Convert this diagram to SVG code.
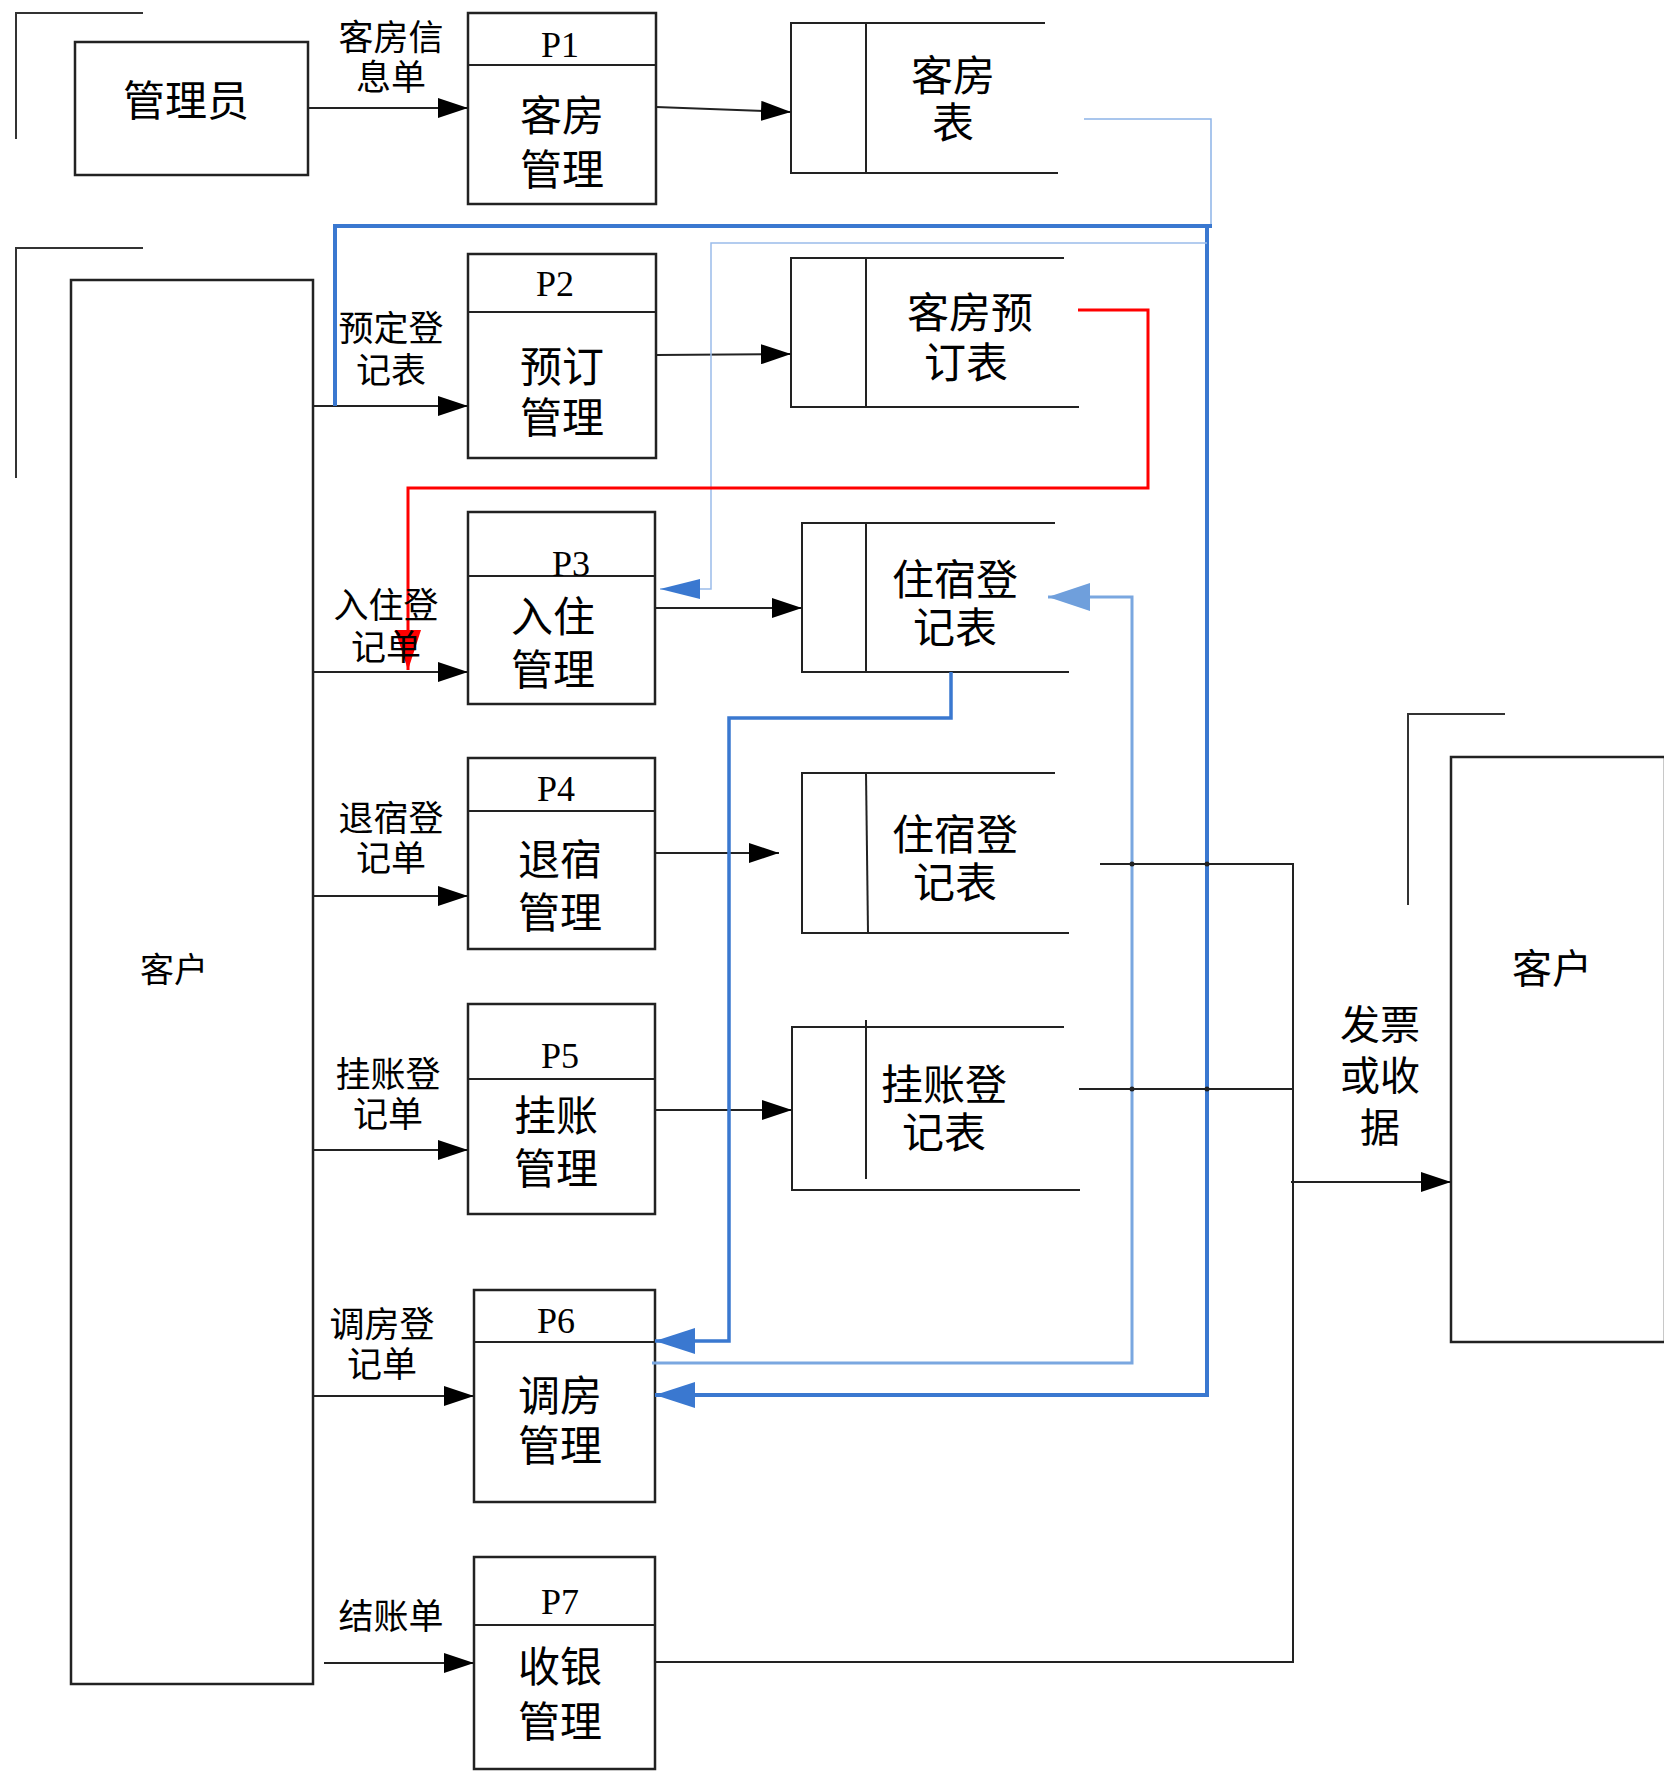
<svg xmlns="http://www.w3.org/2000/svg" width="1664" height="1772" viewBox="0 0 1664 1772">
<style>
.box{fill:none;stroke:#222;stroke-width:2.5}
.ln{fill:none;stroke:#222;stroke-width:2}
.br{fill:none;stroke:#333;stroke-width:2}
.t{font-family:"Noto Sans CJK SC","Noto Sans",sans-serif;fill:#000;text-anchor:middle;dominant-baseline:central;transform:translateY(-4px)}
.t tspan{dominant-baseline:central}
.big{font-size:42px}
.lab{font-size:35px}
.pl{font-family:"Liberation Serif",serif;font-size:36px;fill:#000;text-anchor:middle;dominant-baseline:central}
.blk{fill:none;stroke:#222;stroke-width:2;marker-end:url(#ab)}
</style>
<defs>
<marker id="ab" markerUnits="userSpaceOnUse" markerWidth="30" markerHeight="20" refX="30" refY="10" orient="auto"><path d="M0,0 L30,10 L0,20 z" fill="#000"/></marker>
<marker id="abl" markerUnits="userSpaceOnUse" markerWidth="40" markerHeight="26" refX="40" refY="13" orient="auto"><path d="M0,0 L40,13 L0,26 z" fill="#3a78d0"/></marker>
<marker id="abs" markerUnits="userSpaceOnUse" markerWidth="40" markerHeight="20" refX="40" refY="10" orient="auto"><path d="M0,0 L40,10 L0,20 z" fill="#3a78d0"/></marker>
<marker id="alb" markerUnits="userSpaceOnUse" markerWidth="42" markerHeight="28" refX="42" refY="14" orient="auto"><path d="M0,0 L42,14 L0,28 z" fill="#6f9fdc"/></marker>
<marker id="ar" markerUnits="userSpaceOnUse" markerWidth="40" markerHeight="26" refX="40" refY="13" orient="auto"><path d="M0,0 L40,13 L0,26 z" fill="#ff0000"/></marker>
</defs>
<rect width="1664" height="1772" fill="#fff"/>

<g id="entity-admin">
<path class="br" d="M16,139 V13 H143"/>
<rect class="box" x="75" y="42" width="233" height="133"/>
<text class="t big" x="186" y="101">管理员</text>
</g>

<g id="entity-customer-left">
<path class="br" d="M16,478 V248 H143"/>
<rect class="box" x="71" y="280" width="242" height="1404"/>
<text class="t" x="174" y="971" font-size="34" fill="#333">客户</text>
</g>

<g id="entity-customer-right">
<path class="br" d="M1408,905 V714 H1505"/>
<rect class="box" x="1451" y="757" width="214" height="585"/>
<text class="t" x="1552" y="970" font-size="40">客户</text>
</g>

<g id="P1">
<rect class="box" x="468" y="13" width="188" height="191"/>
<line class="ln" x1="468" y1="65" x2="656" y2="65" stroke-width="2.5"/>
<text class="pl" x="560" y="45">P1</text>
<text class="t big"><tspan x="562" y="116">客房</tspan><tspan x="562" y="170">管理</tspan></text>
</g>
<g id="P2">
<rect class="box" x="468" y="254" width="188" height="204"/>
<line class="ln" x1="468" y1="312" x2="656" y2="312" stroke-width="2.5"/>
<text class="pl" x="555" y="284">P2</text>
<text class="t big"><tspan x="562" y="367">预订</tspan><tspan x="562" y="418">管理</tspan></text>
</g>
<g id="P3">
<rect class="box" x="468" y="512" width="187" height="192"/>
<line class="ln" x1="468" y1="576" x2="655" y2="576" stroke-width="2.5"/>
<text class="pl" x="571" y="564">P3</text>
<text class="t big"><tspan x="553" y="617">入住</tspan><tspan x="553" y="670">管理</tspan></text>
</g>
<g id="P4">
<rect class="box" x="468" y="758" width="187" height="191"/>
<line class="ln" x1="468" y1="811" x2="655" y2="811" stroke-width="2.5"/>
<text class="pl" x="556" y="789">P4</text>
<text class="t big"><tspan x="560" y="860">退宿</tspan><tspan x="560" y="913">管理</tspan></text>
</g>
<g id="P5">
<rect class="box" x="468" y="1004" width="187" height="210"/>
<line class="ln" x1="468" y1="1079" x2="655" y2="1079" stroke-width="2.5"/>
<text class="pl" x="560" y="1056">P5</text>
<text class="t big"><tspan x="556" y="1116">挂账</tspan><tspan x="556" y="1169">管理</tspan></text>
</g>
<g id="P6">
<rect class="box" x="474" y="1290" width="181" height="212"/>
<line class="ln" x1="474" y1="1342" x2="655" y2="1342" stroke-width="2.5"/>
<text class="pl" x="556" y="1321">P6</text>
<text class="t big"><tspan x="560" y="1396">调房</tspan><tspan x="560" y="1446">管理</tspan></text>
</g>
<g id="P7">
<rect class="box" x="474" y="1557" width="181" height="212"/>
<line class="ln" x1="474" y1="1625" x2="655" y2="1625" stroke-width="2.5"/>
<text class="pl" x="560" y="1602">P7</text>
<text class="t big"><tspan x="560" y="1667">收银</tspan><tspan x="560" y="1722">管理</tspan></text>
</g>

<g id="D-rooms">
<path class="ln" d="M1045,23 H791 V173 H1058"/>
<line class="ln" x1="866" y1="23" x2="866" y2="173"/>
<text class="t big"><tspan x="953" y="76">客房</tspan><tspan x="953" y="123">表</tspan></text>
</g>
<g id="D-booking">
<path class="ln" d="M1064,258 H791 V407 H1079"/>
<line class="ln" x1="866" y1="258" x2="866" y2="407"/>
<text class="t big"><tspan x="970" y="313">客房预</tspan><tspan x="966" y="363">订表</tspan></text>
</g>
<g id="D-stay1">
<path class="ln" d="M1055,523 H802 V672 H1069"/>
<line class="ln" x1="866" y1="523" x2="866" y2="672"/>
<text class="t big"><tspan x="955" y="580">住宿登</tspan><tspan x="955" y="628">记表</tspan></text>
</g>
<g id="D-stay2">
<path class="ln" d="M1055,773 H802 V933 H1069"/>
<line class="ln" x1="866" y1="773" x2="868" y2="933" stroke-width="1.5"/>
<text class="t big"><tspan x="955" y="835">住宿登</tspan><tspan x="955" y="883">记表</tspan></text>
</g>
<g id="D-credit">
<path class="ln" d="M1064,1027 H792 V1190 H1080"/>
<line class="ln" x1="866" y1="1020" x2="866" y2="1179"/>
<text class="t big"><tspan x="944" y="1085">挂账登</tspan><tspan x="944" y="1133">记表</tspan></text>
</g>

<g id="connectors">
<line class="blk" x1="308" y1="108" x2="468" y2="108"/>
<line class="blk" x1="313" y1="406" x2="468" y2="406"/>
<line class="blk" x1="313" y1="672" x2="468" y2="672"/>
<line class="blk" x1="313" y1="896" x2="468" y2="896"/>
<line class="blk" x1="313" y1="1150" x2="468" y2="1150"/>
<line class="blk" x1="313" y1="1396" x2="474" y2="1396"/>
<line class="blk" x1="324" y1="1663" x2="474" y2="1663"/>

<line class="blk" x1="656" y1="107" x2="791" y2="112" stroke="#555"/>
<line class="blk" x1="656" y1="355" x2="791" y2="354" stroke="#555"/>
<line class="blk" x1="655" y1="608" x2="802" y2="608"/>
<line class="blk" x1="655" y1="853" x2="779" y2="853"/>
<line class="blk" x1="655" y1="1110" x2="792" y2="1110"/>

<path class="ln" d="M1100,864 H1293 V1662 H656"/>
<line class="ln" x1="1079" y1="1089" x2="1293" y2="1089"/>
<line class="blk" x1="1291" y1="1182" x2="1451" y2="1182"/>

<path d="M1084,119 H1211 V226" fill="none" stroke="#8db4e8" stroke-width="1.5"/>
<path d="M1212,226 H335 V406" fill="none" stroke="#3a78d0" stroke-width="4"/>
<path d="M1207,228 V1395 H655" fill="none" stroke="#3a78d0" stroke-width="4" marker-end="url(#abl)"/>
<path d="M1207,243 H711 V589 H660" fill="none" stroke="#9bbcea" stroke-width="1.5" marker-end="url(#abs)"/>
<path d="M951,672 V718 H729 V1341 H655" fill="none" stroke="#3a78d0" stroke-width="3.5" marker-end="url(#abl)"/>
<path d="M652,1363 H1132 V597 H1048" fill="none" stroke="#7aa7e0" stroke-width="3" marker-end="url(#alb)"/>
<path d="M1078,310 H1148 V488 H408 V670" fill="none" stroke="#ff0000" stroke-width="3" marker-end="url(#ar)"/>

<circle cx="1132" cy="864" r="2.5" fill="#222"/>
<circle cx="1207" cy="864" r="2.5" fill="#222"/>
<circle cx="1132" cy="1089" r="2.5" fill="#222"/>
<circle cx="1207" cy="1089" r="2.5" fill="#222"/>

<text class="t lab"><tspan x="391" y="38">客房信</tspan><tspan x="391" y="78">息单</tspan></text>
<text class="t lab"><tspan x="391" y="329">预定登</tspan><tspan x="391" y="371">记表</tspan></text>
<text class="t lab"><tspan x="386" y="606">入住登</tspan><tspan x="386" y="648">记单</tspan></text>
<text class="t lab"><tspan x="391" y="819">退宿登</tspan><tspan x="391" y="859">记单</tspan></text>
<text class="t lab"><tspan x="388" y="1075">挂账登</tspan><tspan x="388" y="1115">记单</tspan></text>
<text class="t lab"><tspan x="382" y="1325">调房登</tspan><tspan x="382" y="1365">记单</tspan></text>
<text class="t lab" x="391" y="1617">结账单</text>
<text class="t" font-size="40"><tspan x="1380" y="1026">发票</tspan><tspan x="1380" y="1077">或收</tspan><tspan x="1380" y="1129">据</tspan></text>
</g>
</svg>
